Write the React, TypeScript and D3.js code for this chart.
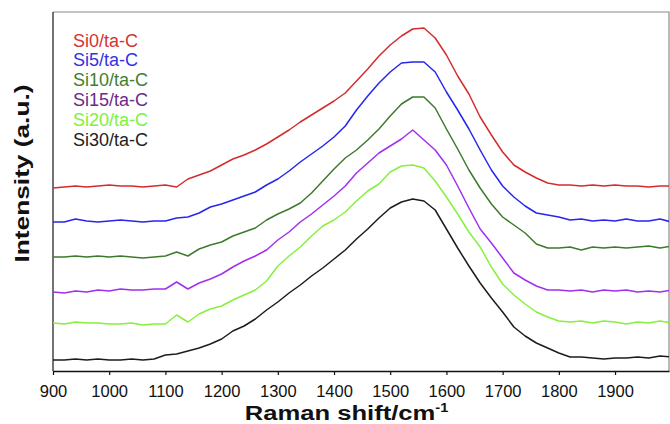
import React, { useEffect, useRef } from 'react'
import * as d3 from 'd3'

// Raman shift sampling grid (cm-1)
const wavenumbers = [
  900, 920, 940, 960, 980, 1000, 1020, 1040, 1060, 1080, 1100,
  1120, 1140, 1160, 1180, 1200, 1220, 1240, 1260, 1280, 1300,
  1320, 1340, 1360, 1380, 1400, 1420, 1440, 1460, 1480, 1500,
  1520, 1540, 1560, 1580, 1600, 1620, 1640, 1660, 1680, 1700,
  1720, 1740, 1760, 1780, 1800, 1820, 1840, 1860, 1880, 1900,
  1920, 1940, 1960, 1980, 2000,
]

// stacked intensities (a.u.)
const si0 = [
  183, 184, 185, 184, 185, 186, 185, 185, 184, 185, 186,
  184, 192, 196, 200, 206, 212, 216, 221, 227, 234,
  241, 249, 256, 263, 270, 278, 290, 302, 315, 326,
  335, 342, 343, 333, 316, 295, 277, 254, 236, 219,
  206, 199, 193, 188, 186, 186, 185, 186, 185, 186,
  185, 185, 184, 185, 185,
]
const si5 = [
  149, 149, 152, 150, 149, 150, 151, 150, 149, 150, 150,
  153, 154, 158, 164, 167, 171, 175, 179, 186, 192,
  200, 209, 217, 225, 234, 245, 261, 275, 288, 299,
  308, 309, 309, 299, 279, 261, 242, 221, 201, 185,
  174, 165, 158, 156, 154, 151, 152, 150, 151, 150,
  152, 150, 150, 152, 149,
]
const si10 = [
  114, 114, 115, 114, 115, 114, 115, 114, 113, 114, 115,
  119, 115, 122, 126, 129, 135, 139, 143, 151, 157,
  162, 168, 178, 190, 202, 213, 221, 231, 242, 255,
  267, 274, 274, 263, 242, 222, 201, 183, 167, 154,
  146, 138, 127, 123, 123, 124, 121, 124, 123, 124,
  123, 124, 125, 123, 125,
]
const si15 = [
  79, 78, 80, 79, 81, 80, 82, 81, 81, 82, 82,
  89, 82, 88, 92, 97, 104, 110, 115, 121, 131,
  139, 149, 157, 166, 175, 185, 198, 208, 218, 225,
  232, 241, 231, 221, 206, 185, 163, 142, 128, 113,
  98, 91, 85, 81, 81, 80, 81, 79, 81, 80,
  81, 79, 80, 79, 81,
]
const si20 = [
  48, 47, 49, 48, 48, 47, 47, 48, 46, 47, 47,
  56, 49, 57, 62, 65, 71, 76, 81, 90, 105,
  115, 124, 135, 145, 151, 159, 170, 180, 187, 199,
  205, 206, 203, 190, 174, 157, 139, 124, 104, 87,
  76, 67, 59, 54, 50, 49, 50, 48, 50, 49,
  47, 49, 48, 50, 48,
]
const si30 = [
  11, 11, 12, 11, 12, 11, 11, 12, 11, 12, 16,
  17, 20, 23, 27, 32, 40, 45, 52, 61, 69,
  78, 86, 95, 103, 112, 121, 132, 142, 153, 163,
  169, 172, 170, 161, 142, 123, 105, 88, 73, 59,
  44, 35, 28, 23, 18, 14, 14, 13, 12, 13,
  13, 14, 13, 15, 14,
]

const seriesNames = ['Si0/ta-C', 'Si5/ta-C', 'Si10/ta-C', 'Si15/ta-C', 'Si20/ta-C', 'Si30/ta-C']
const seriesValues = [si0, si5, si10, si15, si20, si30]
const lineColors = ['#d42c2c', '#2626ee', '#3e7a2c', '#a030ee', '#86f03c', '#1c1c1c']
const labelColors = ['#d43434', '#3232e6', '#3f7f2f', '#6a2a8c', '#80f040', '#222222']
const xTicks = [900, 1000, 1100, 1200, 1300, 1400, 1500, 1600, 1700, 1800, 1900]

export default function App() {
  const ref = useRef<SVGSVGElement>(null)

  useEffect(() => {
    const width = 670
    const height = 424
    const margin = { top: 12, right: 1, bottom: 53, left: 53 }
    const font = 'Arial, "Liberation Sans", Helvetica, sans-serif'

    const svg = d3.select(ref.current)
    svg.selectAll('*').remove()

    const x = d3.scaleLinear()
      .domain([900, 1996])
      .range([margin.left, width - margin.right])

    const y = d3.scaleLinear()
      .domain([0, 359])
      .range([height - margin.bottom, margin.top])

    svg.append('rect')
      .attr('width', width)
      .attr('height', height)
      .attr('fill', '#fff')

    svg.append('defs').append('clipPath')
      .attr('id', 'plot-clip')
      .append('rect')
      .attr('x', x.range()[0])
      .attr('y', y.range()[1])
      .attr('width', x.range()[1] - x.range()[0])
      .attr('height', y.range()[0] - y.range()[1])

    // frame: grey top/right, darker left
    svg.append('path')
      .attr('d', `M${x.range()[0]},${y.range()[1]}H${x.range()[1]}V${y.range()[0]}`)
      .attr('fill', 'none')
      .attr('stroke', '#8a8a8a')
      .attr('stroke-width', 1.2)
    svg.append('line')
      .attr('x1', x.range()[0]).attr('x2', x.range()[0])
      .attr('y1', y.range()[1]).attr('y2', y.range()[0])
      .attr('stroke', '#444')
      .attr('stroke-width', 1.5)

    const line = d3.line<number>()
      .x((_, i) => x(wavenumbers[i]))
      .y(d => y(d))

    const lines = svg.append('g').attr('clip-path', 'url(#plot-clip)')
    seriesValues.forEach((vals, i) => {
      lines.append('path')
        .datum(vals)
        .attr('fill', 'none')
        .attr('stroke', lineColors[i])
        .attr('stroke-width', 1.5)
        .attr('stroke-linejoin', 'round')
        .attr('d', line)
    })

    const xAxis = svg.append('g')
      .attr('transform', `translate(0,${y.range()[0]})`)
      .call(d3.axisBottom(x).tickValues(xTicks).tickFormat(d3.format('d')).tickSize(4).tickSizeOuter(0).tickPadding(10))
    xAxis.select('.domain').attr('stroke', '#111').attr('stroke-width', 1.5)
    xAxis.selectAll('.tick line').attr('stroke', '#111').attr('stroke-width', 1.2)
    xAxis.selectAll('.tick text')
      .attr('fill', '#111')
      .style('font-family', font)
      .style('font-size', '16.5px')

    // legend
    const legend = svg.append('g').style('font-family', font).style('font-size', '18px')
    seriesNames.forEach((name, i) => {
      legend.append('text')
        .attr('x', 73)
        .attr('y', 46.5 + i * 19.8)
        .attr('fill', labelColors[i])
        .text(name)
    })

    // axis titles
    const xTitle = svg.append('text')
      .attr('transform', `translate(346.5,420) scale(1.22,1)`)
      .attr('text-anchor', 'middle')
      .style('font-family', font)
      .style('font-size', '21px')
      .style('font-weight', 'bold')
      .attr('fill', '#111')
    xTitle.append('tspan').text('Raman shift/cm')
    xTitle.append('tspan').attr('dy', -8).style('font-size', '12px').text('-1')

    svg.append('text')
      .attr('transform', `translate(29,173.5) rotate(-90) scale(1.25,1)`)
      .attr('text-anchor', 'middle')
      .style('font-family', font)
      .style('font-size', '21px')
      .style('font-weight', 'bold')
      .attr('fill', '#111')
      .text('Intensity (a.u.)')
  }, [])

  return (
    <svg
      ref={ref}
      width={670}
      height={424}
      style={{ position: 'absolute', left: 0, top: 0, display: 'block' }}
    />
  )
}
